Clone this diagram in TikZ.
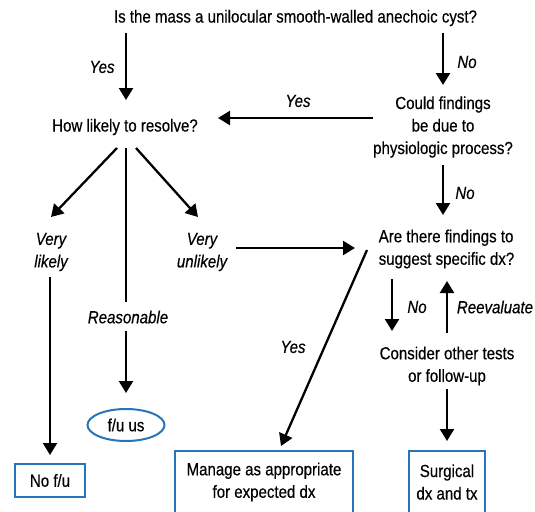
\documentclass[tikz,border=0pt]{standalone}
\usepackage{fontspec}
\setmainfont{Liberation Sans}[FakeStretch=0.86,FakeBold=0.4]
\usetikzlibrary{arrows.meta,shapes.geometric}
\definecolor{boxblue}{RGB}{40,116,186}
\begin{document}
\begin{tikzpicture}[x=1pt,y=-1pt,
  font=\fontsize{17.5}{22.5}\selectfont,
  txt/.style={inner sep=0pt, align=center},
  lbl/.style={inner sep=0pt, align=center, font=\fontsize{17.5}{22.5}\selectfont\itshape},
  arr/.style={line width=2.3pt, -{Triangle[length=12pt,width=14pt]}},
  plainline/.style={line width=2.3pt},
  bluebox/.style={draw=boxblue, line width=2pt, inner sep=0pt, align=center},
]
\clip (0,0) rectangle (535,511);
% text nodes
\node[txt] (q1) at (295.5,18) {Is the mass a unilocular smooth-walled anechoic cyst?};
\node[txt] (q2) at (125,127) {How likely to resolve?};
\node[txt] (q3) at (443,127) {Could findings\\be due to\\physiologic process?};
\node[lbl] (vl) at (51,252) {Very\\likely};
\node[lbl] (vu) at (202,252) {Very\\unlikely};
\node[lbl] (rs) at (128,317) {Reasonable};
\node[txt, align=left] (q4) at (446.5,249) {Are there findings to\\suggest specific dx?};
\node[txt] (q5) at (447,366) {Consider other tests\\or follow-up};
% end nodes
\node[ellipse, draw=boxblue, line width=2pt, minimum width=77pt, minimum height=32pt, inner sep=0pt] (fu) at (126,425) {f/u us};
\node[bluebox, minimum width=70pt, minimum height=33pt] (nofu) at (50,480.5) {No f/u};
\node[bluebox, minimum width=178pt, minimum height=62pt] (mg) at (264,482) {Manage as appropriate\\for expected dx};
\node[bluebox, minimum width=76pt, minimum height=62pt] (sg) at (447,482) {Surgical\\dx and tx};
% labels
\node[lbl] (ly1) at (102,67) {Yes};
\node[lbl] (ln1) at (467,62) {No};
\node[lbl] (ly2) at (298,101) {Yes};
\node[lbl] (ln2) at (465,193) {No};
\node[lbl] (ly3) at (293,347) {Yes};
\node[lbl] (ln3) at (417,307) {No};
\node[lbl] (lre) at (495,307) {Reevaluate};
% connector end points
\coordinate (s1) at (126,33);   \coordinate (e1) at (126,100);
\coordinate (s2) at (443,33);   \coordinate (e2) at (443,85);
\coordinate (s3) at (373,118);  \coordinate (e3) at (218,118);
\coordinate (s4) at (117,148);  \coordinate (e4) at (51,217);
\coordinate (s5) at (126,148);  \coordinate (e5) at (126,302);
\coordinate (s6) at (136,148);  \coordinate (e6) at (198,217);
\coordinate (s7) at (443,165);  \coordinate (e7) at (443,215);
\coordinate (s8) at (236,248);  \coordinate (e8) at (355,248);
\coordinate (s9) at (367,250);  \coordinate (e9) at (281,446);
\coordinate (s10) at (392,279); \coordinate (e10) at (392,331);
\coordinate (s11) at (447,333); \coordinate (e11) at (447,281);
\coordinate (s12) at (447,389); \coordinate (e12) at (447,441);
\coordinate (s13) at (126,331); \coordinate (e13) at (126,393);
\coordinate (s14) at (50,277);  \coordinate (e14) at (50,455);
% connectors
\draw[arr] (s1) -- (e1);
\draw[arr] (s2) -- (e2);
\draw[arr] (s3) -- (e3);
\draw[arr] (s4) -- (e4);
\draw[plainline] (s5) -- (e5);
\draw[arr] (s6) -- (e6);
\draw[arr] (s7) -- (e7);
\draw[arr] (s8) -- (e8);
\draw[arr] (s9) -- (e9);
\draw[arr] (s10) -- (e10);
\draw[arr] (s11) -- (e11);
\draw[arr] (s12) -- (e12);
\draw[arr] (s13) -- (e13);
\draw[arr] (s14) -- (e14);
\end{tikzpicture}
\end{document}
